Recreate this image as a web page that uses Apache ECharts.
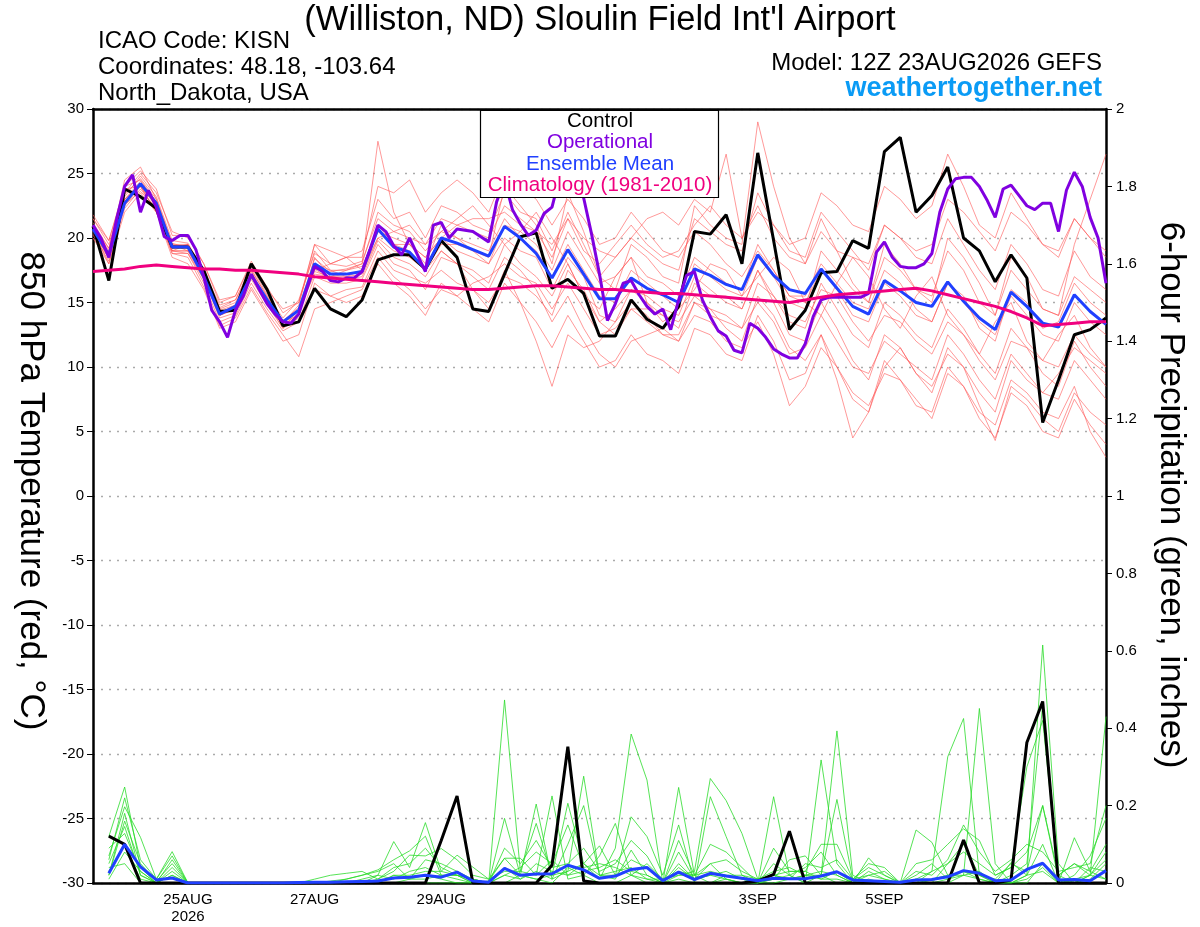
<!DOCTYPE html>
<html><head><meta charset="utf-8">
<script src="https://cdn.jsdelivr.net/npm/echarts@6/dist/echarts.min.js"></script>
<style>html,body{margin:0;padding:0;background:#fff}#c{width:1200px;height:927px}</style>
</head><body><div id="c"></div>
<script>
const FONT = "'Liberation Sans', Arial, Helvetica, sans-serif";

// x tick labels (forecast hour from 12Z 23AUG2026)
const xTickHours = [36, 84, 132, 204, 252, 300, 348];
const xTickLabels = ['25AUG\n2026', '27AUG', '29AUG', '1SEP', '3SEP', '5SEP', '7SEP'];

// 850 hPa temperature, 6-hourly (hour 0..384)
const controlTemp = [20.9,16.7,23.8,23.2,22.3,19.3,19.3,17.5,14.3,14.4,18.0,16.0,13.2,13.5,16.1,14.5,13.9,15.2,18.3,18.7,18.7,17.6,
  19.8,18.5,14.5,14.3,17.2,20.1,20.4,16.1,16.8,15.7,12.4,12.4,15.2,13.7,13.0,14.7,20.5,20.3,21.8,18.0,26.6,19.8,12.9,
  14.4,17.3,17.4,19.8,19.2,26.7,27.8,22.0,23.3,25.5,20.0,19.0,16.6,18.7,16.9,5.7,9.0,12.5,12.9,13.8];
const meanTemp = [20.7,18.7,22.7,24.2,22.7,19.3,19.3,17.0,14.1,14.7,17.1,15.2,13.5,14.4,18.0,17.2,17.2,17.4,20.7,19.3,18.9,17.6,
  20.0,19.6,19.1,18.6,20.9,20.0,18.8,16.9,19.1,17.2,15.3,15.3,16.9,16.1,15.6,15.0,17.6,17.1,16.4,16.0,18.7,17.1,16.0,
  15.7,17.6,16.1,14.7,14.1,16.7,15.9,15.0,14.7,16.6,15.1,13.8,12.9,15.8,14.7,13.4,13.1,15.6,14.3,13.3];
const climoTemp = [17.4,17.5,17.6,17.8,17.9,17.8,17.7,17.6,17.6,17.5,17.5,17.4,17.3,17.2,17.0,16.9,16.8,16.7,16.6,16.5,16.4,16.3,
  16.2,16.1,16.0,16.0,16.1,16.2,16.3,16.3,16.2,16.1,16.0,16.0,15.9,15.8,15.7,15.7,15.6,15.5,15.4,15.3,15.2,15.1,15.0,
  15.2,15.4,15.6,15.7,15.8,15.9,16.0,16.1,15.9,15.6,15.3,15.0,14.7,14.3,13.8,13.2,13.3,13.4,13.5,13.5];
// operational run, 3-hourly (hour 0..384)
const operTemp = [21.0,20.0,18.5,21.5,24.0,24.9,22.0,23.7,22.4,20.1,19.8,20.2,20.2,19.1,17.0,14.4,13.5,12.3,14.4,15.5,17.2,16.0,
  14.9,14.1,13.5,13.4,14.1,16.0,17.8,17.4,16.7,16.6,16.9,16.9,17.4,19.1,21.0,20.5,19.4,18.7,20.0,18.7,17.4,21.0,21.2,
  20.0,20.7,20.6,20.5,20.1,19.7,22.8,24.5,22.2,21.1,20.2,20.6,21.9,22.4,24.8,25.3,24.5,23.1,20.3,17.2,13.6,14.9,16.5,
  16.7,15.6,14.7,14.1,14.5,12.9,15.2,17.1,17.4,15.2,13.9,12.8,12.4,11.3,11.1,13.4,13.0,12.3,11.4,11.0,10.7,10.7,11.8,
  13.9,15.2,15.4,15.4,15.4,15.4,15.4,15.7,18.9,19.7,18.5,17.8,17.7,17.7,18.0,18.8,22.0,23.8,24.6,24.7,24.7,24.0,22.9,
  21.6,23.8,24.1,23.3,22.5,22.2,22.7,22.7,20.5,23.7,25.1,24.0,21.6,20.0,16.5];

// ensemble members, 6-hourly temperature (hour 0..384)
const memA = [21.5,19.5,23.5,25.0,23.5,20.5,20.0,18.0,15.0,15.5,18.0,16.0,14.5, 15.0,19.5,18.0,18.5,19.0,23.0,21.5,22.0,20.0,
  22.5,22.0,21.0,20.5,23.5,22.0,21.5,19.0,22.0,19.5,17.0,18.5,20.0,19.0,18.0,17.5,21.5,20.5,19.5,19.0,23.5,21.0,19.0,
  18.5,22.0,20.5,19.0,17.5,21.0,20.0,18.5,18.0,21.5,19.5,17.5,16.0,19.5,18.0,16.0,15.5,19.0,17.0,16.0];
const memB = [20.0,18.0,22.0,23.5,22.0,18.5,18.0,16.0,13.0,13.5,16.0,14.0,12.0, 12.5,16.5,15.5,15.0,15.5,18.0,16.5,15.5,14.0,
  16.5,15.5,14.5,13.5,16.5,15.0,13.5,11.5,14.0,12.0,10.0,10.5,12.5,11.0,10.5,9.5,13.0,12.5,11.0,10.5,14.0,12.0,9.0,
  9.5,12.5,10.0,7.5,6.5,10.5,9.0,7.0,6.5,10.0,8.5,6.0,4.5,8.0,7.0,5.0,4.5,7.5,5.5,4.0];
const memC = [21.0,19.0,24.5,25.5,23.0,19.5,19.5,17.0,14.5,15.0,17.5,15.5,13.5, 14.0,18.5,17.0,17.5,18.0,27.5,22.0,19.5,18.0,
  21.0,20.0,19.0,18.5,24.0,22.5,21.0,18.0,23.5,20.5,17.0,16.0,19.5,18.5,17.0,16.5,22.5,21.0,20.0,19.5,29.0,24.0,20.0,
  18.0,21.5,19.0,16.5,15.0,19.5,18.0,16.0,15.0,20.0,18.5,16.5,14.0,18.5,17.0,14.5,14.0,19.5,23.0,26.5];
const memD = [20.5,18.5,23.0,24.0,22.5,19.0,19.0,17.5,14.0,14.5,17.0,15.0,13.0, 14.5,17.5,18.0,18.5,17.5,20.0,20.5,21.0,19.5,
  20.5,21.5,22.5,21.0,19.5,20.5,22.0,20.0,18.0,15.5,14.5,17.0,18.5,15.0,13.5,14.5,16.0,18.0,17.5,15.5,17.0,18.5,17.5,
  15.0,14.0,16.5,18.5,17.0,14.5,13.0,15.5,17.0,14.0,12.5,11.0,13.5,15.0,12.0,10.5,12.5,14.0,11.5,10.0];
const memE = [21.2,19.2,23.2,24.8,23.2,19.8,19.6,17.4,14.6,15.2,17.8,15.6,13.8, 15.2,18.8,18.0,17.8,18.2,21.5,20.5,20.0,19.5,
  21.5,21.0,20.5,20.0,22.5,21.5,20.5,18.5,21.5,19.0,18.0,19.5,21.0,19.5,18.5,19.0,21.0,22.5,21.0,20.0,22.0,21.0,19.5,
  20.0,23.5,22.5,21.0,20.5,24.0,23.0,21.5,22.5,26.5,24.0,21.0,20.0,23.5,21.5,19.5,18.5,21.5,20.0,19.0];
const memF = [20.3,18.2,22.3,23.8,22.2,18.8,18.8,16.5,13.5,14.0,16.5,14.5,12.8, 13.5,17.0,16.5,16.5,16.8,19.5,18.0,17.5,16.0,
  18.5,18.0,17.0,16.0,18.5,17.5,16.0,13.5,15.5,13.0,11.0,10.0,12.0,12.5,13.0,12.0,15.0,14.5,13.0,12.0,15.5,14.0,11.5,
  10.5,12.5,9.0,4.5,6.5,10.0,11.5,9.5,8.5,11.0,10.0,8.0,6.5,10.5,9.0,8.0,9.5,11.5,10.5,9.5];
const memG = [21.8,19.8,24.0,24.5,22.8,19.5,19.0,17.0,14.2,14.8,17.4,15.2,13.2, 14.0,18.0,17.5,17.0,17.5,21.0,19.5,19.0,17.5,
  19.5,19.5,19.0,18.0,20.0,19.0,18.5,16.0,18.5,17.0,14.0,13.5,16.0,15.0,14.0,13.0,16.5,15.5,15.5,14.5,17.5,15.5,13.5,
  13.0,16.5,14.5,12.5,11.5,15.0,14.0,12.5,11.5,14.5,13.0,11.0,9.5,13.0,11.5,9.5,8.5,12.0,10.0,8.5];
const memH = [20.8,18.8,23.0,24.2,22.5,19.2,19.5,17.2,14.0,14.5,17.2,15.0,13.4, 14.8,19.5,19.0,18.5,18.5,24.0,23.5,24.5,22.0,
  23.5,24.5,23.5,22.0,25.0,24.0,23.0,21.0,23.0,21.5,19.5,20.0,22.0,20.5,19.0,18.5,20.5,19.5,18.0,17.0,19.0,17.5,15.5,
  15.5,18.0,16.5,15.0,14.5,17.5,16.5,14.5,13.5,16.5,15.0,13.5,12.5,15.5,14.0,12.5,12.0,15.0,13.5,12.5];
const memI = [20.0,18.5,22.5,24.0,22.5,19.0,18.8,16.8,13.8,14.2,16.8,14.8,13.0, 13.8,16.0,15.5,16.0,16.2,19.0,17.5,17.0,16.5,
  17.5,16.5,16.0,15.0,17.0,16.5,15.5,14.0,17.5,16.0,13.5,14.5,16.0,15.5,14.5,14.0,17.0,16.0,15.0,14.5,17.5,15.0,12.5,
  12.0,15.0,13.0,10.5,9.0,12.5,11.5,9.5,8.0,11.5,10.0,7.0,4.3,8.5,7.5,6.0,5.0,8.0,6.5,5.5];
const memJ = [21.0,19.2,24.0,25.2,23.8,20.2,20.2,18.0,15.2,15.5,18.2,16.2,14.2, 15.0,19.0,17.5,17.5,17.8,20.5,19.5,19.5,18.5,
  20.0,19.0,18.5,18.0,21.0,20.5,19.5,17.5,20.5,18.5,16.5,17.0,18.5,17.0,16.5,15.5,18.5,17.5,16.5,16.0,19.5,17.5,15.5,
  15.0,17.5,16.0,14.0,13.5,16.5,15.5,14.0,13.5,16.5,15.5,13.0,12.0,16.0,15.0,13.0,13.5,16.5,15.0,14.0];
const memK = [20.5,18.0,22.8,24.0,22.0,18.8,18.5,16.2,13.2,13.8,16.2,14.2,12.5, 10.8,14.5,15.0,15.5,16.0,18.5,17.0,16.0,14.5,
  16.0,15.5,16.5,17.0,18.0,17.0,16.5,14.5,16.5,14.5,12.5,13.0,14.5,13.5,12.5,12.0,14.0,13.5,12.0,11.5,13.5,11.0,7.0,
  8.5,11.5,10.0,8.0,7.0,9.5,9.0,7.5,6.0,9.5,8.5,6.5,5.5,9.0,8.0,6.5,6.0,8.5,5.0,3.0];
const memL = [21.5,19.8,23.8,24.0,22.0,19.0,19.5,17.5,14.8,15.2,17.6,15.4,13.6, 14.6,18.4,17.4,17.6,18.0,22.0,21.0,20.5,19.0,
  20.5,20.0,19.5,19.0,21.5,20.0,19.0,17.0,19.5,17.5,15.5,15.0,17.5,16.5,15.5,14.5,18.0,17.0,16.0,15.5,18.5,17.0,15.0,
  14.5,19.0,17.5,16.0,15.0,18.5,17.5,16.0,15.5,19.0,17.5,15.0,14.0,17.5,16.0,14.5,14.0,17.0,16.0,15.0];
const memM = [20.2,18.6,23.4,24.6,23.0,19.6,19.2,17.2,14.4,14.8,17.2,15.2,13.6, 14.4,17.2,17.0,17.2,17.4,20.5,20.0,19.5,18.5,
  20.0,21.0,21.5,21.5,22.0,21.0,20.5,19.5,21.5,20.0,19.0,18.5,20.0,21.5,22.0,21.0,23.0,22.0,26.5,20.0,22.5,20.0,18.5,
  18.0,20.5,19.0,18.5,18.0,21.0,20.0,19.0,19.5,23.0,22.0,20.5,19.0,22.0,21.0,19.5,19.0,21.5,20.0,18.5];
const memN = [20.6,18.4,22.6,23.6,22.4,19.0,19.0,16.8,14.0,14.6,17.0,15.0,13.2, 14.2,17.6,16.8,16.8,17.0,19.8,18.5,18.0,17.0,
  19.0,18.0,17.5,16.5,19.5,18.0,17.0,15.5,18.0,15.5,13.5,12.5,14.5,14.5,14.0,13.5,15.5,14.5,14.0,13.0,15.0,13.5,11.0,
  11.5,14.0,12.0,10.0,9.5,12.0,11.0,10.0,9.0,12.5,11.0,9.0,7.5,11.0,9.5,8.0,7.5,10.5,9.0,7.5];
const memO = [21.0,18.8,23.0,24.4,22.8,19.4,19.4,17.0,14.2,14.6,17.0,15.2,13.4, 14.4,17.4,17.0,17.0,17.2,20.0,19.0,18.5,17.5,
  19.0,18.0,16.0,14.5,17.5,15.0,12.0,8.5,12.5,11.5,12.0,13.5,15.0,14.0,12.5,12.5,15.0,14.0,13.5,13.0,16.5,15.5,14.0,
  13.5,16.0,15.5,13.5,12.0,14.0,13.5,12.0,11.0,13.5,12.5,10.5,9.0,12.0,11.5,10.5,10.0,12.5,11.0,10.0];
const redMembers = [memA, memB, memC, memD, memE, memF, memG, memH, memI, memJ, memK, memL, memM, memN, memO];

// 6-hour precipitation (inches), hour 6..384
const controlPrecip = [0.121,0.10,0,0,0,0,0,0, 0,0,0,0,0,0,0,0, 0,0,0,0,0,0.11,0.225,0, 0,0,0,0,0.046,0.352,0.005,0,
  0,0,0,0,0,0,0,0, 0,0.005,0.022,0.134,0,0,0,0, 0,0,0,0,0,0,0.111,0, 0,0.008,0.363,0.469,0,0,0,0];
const meanPrecip = [0.025,0.10,0.042,0.008,0.013,0,0,0, 0,0,0,0,0.001,0.002,0.002,0.003, 0.004,0.005,0.013,0.015,0.02,0.015,0.028,0.005,
  0.002,0.038,0.02,0.023,0.024,0.046,0.034,0.012, 0.018,0.035,0.040,0.006,0.028,0.009,0.025,0.018, 0.012,0.006,0.012,0.011,0.011,0.018,0.029,0.008,
  0.006,0.004,0.002,0.008,0.009,0.016,0.032,0.025, 0.006,0.008,0.035,0.051,0.008,0.009,0.006,0.032];
const gm1 = [0.12,0.248,0.04,0,0.06,0,0,0, 0,0,0,0,0,0,0,0, 0.01,0.02,0.107,0.04,0.156,0.03,0.02,0, 0,0.473,0.03,0.02,0.06,0.02,0.05,0.01,
  0.09,0.385,0.266,0,0.05,0.01,0.02,0.01, 0,0,0.05,0.02,0,0.318,0.05,0, 0,0,0,0.01,0,0.05,0.1,0.02, 0,0,0.02,0.615,0.05,0,0.02,0.06];
const gm2 = [0.07,0.197,0.118,0.01,0.081,0,0,0, 0,0,0,0,0,0,0.005,0.01, 0.02,0.034,0.06,0.083,0.121,0.02,0.01,0, 0,0.167,0.02,0.204,0.01,0.03,0.276,0.02,
  0.02,0.06,0.04,0,0.247,0.02,0,0.01, 0,0,0.223,0.02,0,0.02,0.393,0.02, 0,0,0,0,0,0.01,0.02,0.451, 0.05,0,0,0.05,0,0.117,0.03,0.01];
const gm3 = [0.02,0.18,0.02,0,0.04,0,0,0, 0,0,0,0,0,0.01,0.02,0.025, 0.03,0.01,0.03,0.072,0.07,0.089,0.06,0.02, 0.01,0.064,0.064,0.02,0.225,0.01,0.02,0.07,
  0.154,0.02,0.01,0,0.02,0.03,0.27,0.213, 0.128,0.01,0.02,0.01,0.02,0.03,0.02,0, 0.065,0.02,0,0,0.03,0.326,0.425,0.02, 0,0.02,0.05,0.46,0.02,0,0.02,0.43];
const gm4 = [0.05,0.146,0.02,0,0.02,0,0,0, 0,0,0,0,0,0,0,0, 0,0,0.02,0.02,0.03,0.03,0.072,0.041, 0.01,0.03,0.03,0.154,0.02,0.206,0.05,0.096,
  0.02,0.171,0.12,0.02,0.15,0,0.223,0.12, 0.02,0,0.01,0.06,0.07,0.02,0.216,0.01, 0.05,0.04,0,0.137,0.105,0.02,0.02,0.01, 0,0.053,0.02,0.1,0,0.02,0.07,0.167];
const gm5 = [0.09,0.128,0.03,0,0.03,0,0,0, 0,0,0,0,0,0,0,0, 0,0.02,0.01,0.03,0.04,0.02,0.02,0.01, 0,0.02,0.01,0.03,0.01,0.1,0.2,0.02,
  0.01,0.085,0.02,0,0.08,0.01,0.02,0.03, 0.01,0,0.01,0.02,0.04,0.08,0.02,0, 0.01,0,0,0.01,0.03,0.05,0.08,0.05, 0.02,0.04,0.3,0.42,0.02,0.05,0.02,0.01];
const gm6 = [0.03,0.10,0.01,0,0,0,0,0, 0,0,0,0,0,0,0,0, 0,0,0,0.01,0.02,0.01,0,0, 0.005,0.064,0.02,0.01,0.02,0.03,0.05,0.02,
  0.03,0.04,0.01,0.01,0.02,0.02,0.03,0.02, 0.02,0.01,0.03,0.04,0.02,0.01,0.03,0, 0.02,0.03,0,0,0.01,0.02,0.03,0.01, 0,0,0.02,0.03,0,0.01,0.02,0.08];
const gm7 = [0.01,0.08,0.03,0,0.02,0,0,0, 0,0,0,0,0,0,0,0, 0,0,0.02,0.01,0.01,0.02,0.02,0.01, 0,0.04,0.01,0.05,0.03,0.02,0.03,0.04,
  0.06,0.03,0.02,0,0.04,0.01,0.05,0.01, 0,0,0.02,0.03,0.03,0.01,0.01,0, 0.03,0.01,0,0.02,0.05,0.01,0.03,0.02, 0.01,0.05,0.03,0.2,0.01,0,0.04,0.03];
const gm8 = [0.04,0.05,0,0,0,0,0,0, 0,0,0,0,0,0,0,0, 0,0,0,0,0,0,0,0, 0,0,0.02,0.01,0,0.04,0.02,0,
  0,0.02,0,0,0.01,0,0,0.02, 0.01,0,0,0.01,0.02,0.02,0,0, 0,0,0,0,0,0,0.02,0.03, 0,0,0.01,0.04,0,0,0.01,0.05];
const gm9 = [0.02,0.16,0.05,0.005,0.05,0,0,0, 0,0,0,0,0,0,0,0, 0,0.01,0.04,0.05,0.09,0.04,0.02,0, 0,0.09,0.05,0.11,0.04,0.05,0.09,0.03,
  0.05,0.11,0.07,0,0.11,0.02,0.1,0.08, 0.04,0,0.09,0.03,0.03,0.1,0.1,0.01, 0.04,0.02,0,0.05,0.06,0.1,0.14,0.11, 0.02,0.04,0.08,0.2,0.02,0.05,0.03,0.1];
const gm10 = [0.06,0.22,0.06,0.01,0.07,0,0,0, 0,0,0,0,0,0,0,0.01, 0.02,0.03,0.05,0.01,0.06,0.05,0.03,0.01, 0,0.02,0.04,0.08,0.05,0.15,0.04,0.05,
  0.04,0.02,0.05,0.01,0.03,0.02,0.05,0.06, 0.03,0.01,0.02,0.01,0.05,0.04,0.06,0.01, 0.02,0.01,0,0.03,0.02,0.06,0.15,0.08, 0.03,0.06,0.1,0.08,0.03,0.04,0.05,0.2];
const greenMembers = [gm1, gm2, gm3, gm4, gm5, gm6, gm7, gm8, gm9, gm10];

// ---------- build chart ----------
const temp6 = arr => arr.map((v, i) => [i * 6, v]);
const temp3 = arr => arr.map((v, i) => [i * 3, v]);
const prcp6 = arr => arr.map((v, i) => [(i + 1) * 6, v]);
const labelMap = {};
xTickHours.forEach((h, i) => { labelMap[h] = xTickLabels[i]; });

const series = [];
redMembers.forEach((m, k) => series.push({
  name: 'member' + k, type: 'line', yAxisIndex: 0, data: temp6(m), symbol: 'none', silent: true,
  lineStyle: { color: '#ff5252', width: 0.7, opacity: 0.85 }, z: 1
}));
greenMembers.forEach((m, k) => series.push({
  name: 'pmember' + k, type: 'line', yAxisIndex: 1, data: prcp6(m), symbol: 'none', silent: true,
  lineStyle: { color: '#2bdc2b', width: 0.8 }, z: 1
}));
series.push({ name: 'Control', type: 'line', yAxisIndex: 0, data: temp6(controlTemp), symbol: 'none', lineStyle: { color: '#000', width: 3 }, z: 3 });
series.push({ name: 'ControlP', type: 'line', yAxisIndex: 1, data: prcp6(controlPrecip), symbol: 'none', lineStyle: { color: '#000', width: 3 }, z: 3 });
series.push({ name: 'Ensemble Mean', type: 'line', yAxisIndex: 0, data: temp6(meanTemp), symbol: 'none', lineStyle: { color: '#2040ff', width: 3 }, z: 4 });
series.push({ name: 'MeanP', type: 'line', yAxisIndex: 1, data: prcp6(meanPrecip), symbol: 'none', lineStyle: { color: '#2040ff', width: 3 }, z: 4 });
series.push({ name: 'Operational', type: 'line', yAxisIndex: 0, data: temp3(operTemp), symbol: 'none', lineStyle: { color: '#8000e0', width: 3 }, z: 5 });
series.push({ name: 'Climatology', type: 'line', yAxisIndex: 0, data: temp6(climoTemp), symbol: 'none', lineStyle: { color: '#f0007f', width: 3 }, z: 6 });

const txt = (x, y, text, size, color, align, extra) => Object.assign({
  type: 'text', x: x, y: y, z: 100,
  style: { text: text, fill: color, fontSize: size, fontFamily: FONT,
    textAlign: align, align: align, textVerticalAlign: 'middle', verticalAlign: 'middle' }
}, extra || {});

const graphic = [
  txt(600, 20, "(Williston, ND) Sloulin Field Int'l Airport", 34.5, '#000', 'center'),
  txt(98, 41, 'ICAO Code: KISN', 24, '#000', 'left'),
  txt(98, 67, 'Coordinates: 48.18, -103.64', 24, '#000', 'left'),
  txt(98, 93, 'North_Dakota, USA', 24, '#000', 'left'),
  txt(1102, 63, 'Model: 12Z 23AUG2026 GEFS', 24, '#000', 'right'),
  { type: 'text', x: 1102, y: 89, z: 100, style: { text: 'weathertogether.net', fill: '#0a9bf5', fontSize: 27, fontWeight: 'bold', fontFamily: FONT, textAlign: 'right', align: 'right', textVerticalAlign: 'middle', verticalAlign: 'middle' } },
  { type: 'rect', z: 90, shape: { x: 480.5, y: 110.5, width: 238, height: 87 }, style: { fill: '#fff', stroke: '#000', lineWidth: 1.2 } },
  txt(600, 121, 'Control', 20.5, '#000', 'center'),
  txt(600, 142.5, 'Operational', 20.5, '#8000e0', 'center'),
  txt(600, 164, 'Ensemble Mean', 20.5, '#2040ff', 'center'),
  txt(600, 185.5, 'Climatology (1981-2010)', 20.5, '#f0007f', 'center'),
  txt(31, 491, '850 hPa Temperature (red, °C)', 35, '#000', 'center', { rotation: -Math.PI / 2 }),
  txt(1171, 495, '6-hour Precipitation (green, inches)', 35, '#000', 'center', { rotation: -Math.PI / 2 })
];

const option = {
  animation: false,
  backgroundColor: '#fff',
  textStyle: { fontFamily: FONT },
  grid: { left: 93, right: 94, top: 109, bottom: 44, show: false },
  xAxis: [
    { type: 'value', min: 0, max: 384, position: 'bottom',
      axisLine: { show: true, onZero: false, lineStyle: { color: '#000', width: 2.5 } }, axisTick: { show: false }, splitLine: { show: false },
      axisLabel: { customValues: xTickHours, formatter: v => labelMap[v] || '', color: '#000', fontSize: 15, lineHeight: 17, margin: 8, fontFamily: FONT } },
    { type: 'value', min: 0, max: 384, position: 'top',
      axisLine: { show: true, onZero: false, lineStyle: { color: '#000', width: 2.5 } }, axisTick: { show: false }, splitLine: { show: false },
      axisLabel: { show: false } }
  ],
  yAxis: [
    { type: 'value', min: -30, max: 30, interval: 5, position: 'left',
      axisLine: { show: true, onZero: false, lineStyle: { color: '#000', width: 2.5 } },
      axisTick: { show: true, length: 6, lineStyle: { color: '#000', width: 1 } },
      axisLabel: { color: '#000', fontSize: 15, margin: 9, fontFamily: FONT },
      splitLine: { show: true, lineStyle: { color: '#aaa', width: 1.3, type: [2, 6] } } },
    { type: 'value', min: 0, max: 2, interval: 0.2, position: 'right',
      axisLine: { show: true, onZero: false, lineStyle: { color: '#000', width: 2.5 } },
      axisTick: { show: true, length: 6, lineStyle: { color: '#000', width: 1 } },
      axisLabel: { color: '#000', fontSize: 15, margin: 10, fontFamily: FONT, formatter: v => String(Math.round(v * 10) / 10) },
      splitLine: { show: false } }
  ],
  graphic: graphic,
  series: series
};

const chart = echarts.init(document.getElementById('c'), null, { renderer: 'canvas' });
chart.setOption(option);
</script></body></html>
